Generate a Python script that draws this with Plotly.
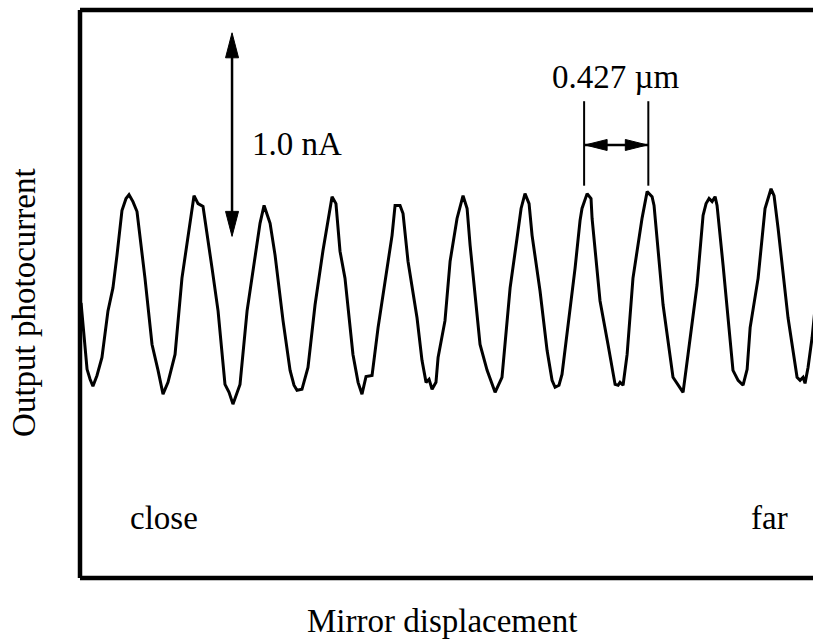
import plotly.graph_objects as go

# Mirror displacement (µm) and output photocurrent (nA)
displacement_um = [
    0.007, 0.020, 0.047, 0.067, 0.086, 0.113, 0.146, 0.186, 0.219, 0.246,
    0.279, 0.306, 0.326, 0.352, 0.379, 0.432, 0.479, 0.519, 0.552, 0.585,
    0.632, 0.678, 0.732, 0.758, 0.785, 0.818, 0.878, 0.918, 0.964, 0.991,
    1.017, 1.064, 1.111, 1.164, 1.197, 1.224, 1.264, 1.297, 1.350, 1.397,
    1.423, 1.443, 1.476, 1.516, 1.563, 1.616, 1.649, 1.676, 1.702, 1.729,
    1.762, 1.815, 1.849, 1.875, 1.902, 1.942, 1.982, 2.008, 2.048, 2.075,
    2.095, 2.128, 2.148, 2.181, 2.241, 2.274, 2.301, 2.321, 2.341, 2.367,
    2.381, 2.427, 2.461, 2.507, 2.547, 2.574, 2.594, 2.660, 2.707, 2.760,
    2.806, 2.860, 2.906, 2.933, 2.959, 2.986, 3.006, 3.059, 3.106, 3.139,
    3.159, 3.185, 3.205, 3.245, 3.292, 3.325, 3.338, 3.372, 3.398, 3.405,
    3.458, 3.511, 3.558, 3.578, 3.591, 3.611, 3.638, 3.677, 3.737, 3.771,
    3.804, 3.817, 3.877, 3.943, 3.977, 4.010, 4.043, 4.103, 4.143, 4.163,
    4.183, 4.203, 4.223, 4.236, 4.276, 4.342, 4.376, 4.409, 4.436, 4.456,
    4.509, 4.555, 4.595, 4.615, 4.642, 4.708, 4.768, 4.788, 4.808, 4.821,
    4.841, 4.868, 4.888,
]
photocurrent_nA = [
    1.341, 1.229, 1.015, 0.966, 0.932, 0.985, 1.073, 1.302, 1.415, 1.576,
    1.795, 1.854, 1.873, 1.839, 1.790, 1.463, 1.137, 1.010, 0.893, 0.951,
    1.088, 1.463, 1.741, 1.868, 1.829, 1.815, 1.512, 1.302, 0.941, 0.902,
    0.844, 0.941, 1.302, 1.576, 1.732, 1.820, 1.732, 1.576, 1.254, 1.010,
    0.937, 0.912, 0.917, 1.024, 1.332, 1.600, 1.741, 1.863, 1.829, 1.595,
    1.463, 1.088, 0.951, 0.893, 0.980, 0.985, 1.220, 1.351, 1.546, 1.673,
    1.820, 1.820, 1.780, 1.546, 1.268, 1.059, 0.951, 0.966, 0.917, 0.951,
    1.073, 1.254, 1.546, 1.756, 1.868, 1.805, 1.624, 1.137, 1.010, 0.902,
    0.976, 1.415, 1.659, 1.805, 1.878, 1.829, 1.673, 1.400, 1.107, 0.961,
    0.927, 0.937, 0.990, 1.220, 1.512, 1.746, 1.805, 1.878, 1.854, 1.756,
    1.351, 1.137, 0.941, 0.937, 0.951, 0.937, 1.088, 1.463, 1.756, 1.888,
    1.863, 1.820, 1.332, 0.976, 0.941, 0.902, 1.088, 1.429, 1.771, 1.829,
    1.854, 1.839, 1.863, 1.820, 1.527, 1.010, 0.961, 0.937, 1.015, 1.220,
    1.463, 1.805, 1.902, 1.868, 1.707, 1.268, 0.976, 0.961, 0.976, 0.946,
    1.024, 1.171, 1.317,
]

# Annotation values
scale_bar_x_um = 1.011
scale_bar_bottom_nA = 1.668
scale_bar_length_nA = 1.0
period_start_um = 3.352
period_um = 0.427
bracket_bottom_nA = 1.917
bracket_top_nA = 2.332
bracket_arrow_nA = 2.117

x_range = [0.0, 4.874]
y_range = [-0.010, 2.780]

FONT = "Liberation Serif, Times New Roman, serif"
FS = 33

fig = go.Figure()
fig.add_trace(go.Scatter(
    x=displacement_um, y=photocurrent_nA, mode="lines",
    line=dict(color="black", width=3), hoverinfo="skip", showlegend=False,
))

shapes = []
# Frame: left, top, bottom (right edge outside the page)
frame = dict(type="line", xref="paper", yref="paper", line=dict(color="black", width=4.5))
shapes.append(dict(frame, x0=0, x1=0, y0=0, y1=1))
shapes.append(dict(frame, x0=0, x1=1.01, y0=1, y1=1))
shapes.append(dict(frame, x0=0, x1=1.01, y0=0, y1=0))

# Vertical 1.0 nA scale bar: shaft + two narrow triangular heads
sb_top = scale_bar_bottom_nA + scale_bar_length_nA
shapes.append(dict(type="line", xref="x", yref="y", x0=scale_bar_x_um, x1=scale_bar_x_um,
                   y0=scale_bar_bottom_nA + 0.05, y1=sb_top - 0.05,
                   line=dict(color="black", width=2.5)))
head = dict(type="path", xref="x", yref="y", xsizemode="pixel", ysizemode="pixel",
            fillcolor="black", line=dict(color="black", width=1))
shapes.append(dict(head, xanchor=scale_bar_x_um, yanchor=sb_top,
                   path="M0,0 L-6.5,-25 L6.5,-25 Z"))
shapes.append(dict(head, xanchor=scale_bar_x_um, yanchor=scale_bar_bottom_nA,
                   path="M0,0 L-6.5,25 L6.5,25 Z"))

# Period bracket lines
x_left = period_start_um
x_right = period_start_um + period_um
for xb in (x_left, x_right):
    shapes.append(dict(type="line", xref="x", yref="y", x0=xb, x1=xb,
                       y0=bracket_bottom_nA, y1=bracket_top_nA,
                       line=dict(color="black", width=2)))
# Horizontal double arrow between bracket lines
shapes.append(dict(type="line", xref="x", yref="y", x0=x_left, x1=x_right,
                   y0=bracket_arrow_nA, y1=bracket_arrow_nA,
                   line=dict(color="black", width=2.5)))
shapes.append(dict(head, xanchor=x_left, yanchor=bracket_arrow_nA,
                   path="M1,0 L23,-5.5 L23,5.5 Z"))
shapes.append(dict(head, xanchor=x_right, yanchor=bracket_arrow_nA,
                   path="M-1,0 L-23,-5.5 L-23,5.5 Z"))

annotations = []
txt = dict(showarrow=False, font=dict(family=FONT, size=FS, color="black"))
annotations.append(dict(txt, text="1.0 nA", x=1.13, y=2.12, xref="x", yref="y",
                        xanchor="left", yanchor="middle"))
annotations.append(dict(txt, text="0.427 µm", x=period_start_um + period_um / 2, y=2.449,
                        xref="x", yref="y", xanchor="center", yanchor="middle"))
annotations.append(dict(txt, text="close", x=0.319, y=0.283, xref="x", yref="y",
                        xanchor="left", yanchor="middle"))
annotations.append(dict(txt, text="far", x=4.722, y=0.283, xref="x", yref="y",
                        xanchor="right", yanchor="middle"))
annotations.append(dict(txt, text="Mirror displacement", x=0.4945, y=-0.075,
                        xref="paper", yref="paper", xanchor="center", yanchor="middle"))
annotations.append(dict(txt, text="Output photocurrent", x=-0.0764, y=0.486,
                        xref="paper", yref="paper", xanchor="center", yanchor="middle",
                        textangle=-90))

fig.update_layout(
    width=813, height=643,
    margin=dict(l=80, r=0, t=10, b=65),
    paper_bgcolor="white", plot_bgcolor="white",
    xaxis=dict(range=x_range, visible=False, fixedrange=True),
    yaxis=dict(range=y_range, visible=False, fixedrange=True),
    shapes=shapes, annotations=annotations, showlegend=False,
)

fig.write_html("out.html")
